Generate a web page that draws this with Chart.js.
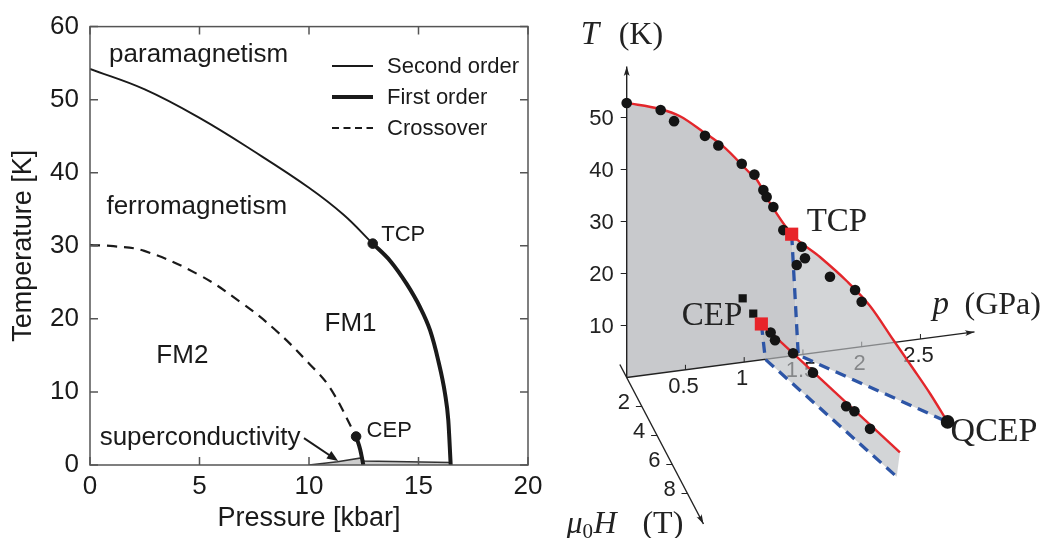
<!DOCTYPE html>
<html><head><meta charset="utf-8">
<script src="https://cdn.jsdelivr.net/npm/chart.js@4/dist/chart.umd.min.js"></script>
<style>
html,body{margin:0;padding:0;background:#fff;width:1049px;height:538px;overflow:hidden}
#c1{position:absolute;left:0;top:0}
#c2{position:absolute;left:540px;top:0}
</style></head><body>
<canvas id="c1" width="560" height="538"></canvas>
<canvas id="c2" width="509" height="538"></canvas>
<script>
// ================= LEFT PANEL DATA (pressure in kbar, temperature in K) =================
const pressureTicks = [0, 5, 10, 15, 20];
const temperatureTicks = [0, 10, 20, 30, 40, 50, 60];
const secondOrderP = [0, 2.5, 5.0, 7.5, 10.0, 11.58, 12.91];
const secondOrderT = [54.2, 51.4, 47.5, 42.9, 37.95, 34.25, 30.3];
const firstOrderP = [12.91, 13.70, 14.46, 15.07, 15.53, 15.90, 16.21, 16.36, 16.47];
const firstOrderT = [30.3, 27.96, 24.78, 21.59, 18.41, 14.32, 9.78, 6.14, 0];
const crossoverP = [0, 1.07, 2.48, 4.99, 6.87, 8.44, 10.0, 10.95, 12.15];
const crossoverT = [30.1, 29.95, 29.3, 26.0, 22.3, 18.55, 13.9, 10.6, 3.9];
const cepFirstOrderP = [12.15, 12.34, 12.48];
const cepFirstOrderT = [3.9, 2.1, 0];
const scDomeP = [10.0, 11.3, 12.45, 12.5, 14.5, 16.47];
const scDomeT = [0, 0.45, 1.0, 0.55, 0.45, 0.35];
const leftPointsP = [12.91, 12.15];   // TCP, CEP
const leftPointsT = [30.3, 3.9];
const legendLabels = ['Second order', 'First order', 'Crossover'];

// ================= RIGHT PANEL DATA (p in GPa, T in K, mu0H in T) =================
const tAxisTicks = [10, 20, 30, 40, 50];
const pAxisTicks = [0.5, 1, 1.5, 2, 2.5];
const hAxisTicks = [2, 4, 6, 8];
// Curie line in the H = 0 plane
const tcLineP = [0, 0.283, 0.454, 0.652, 0.822, 1.049, 1.106, 1.22, 1.404];
const tcLineT = [52.8, 50.8, 48.9, 45.3, 42.0, 36.2, 34.8, 29.9, 23.4];
// TCP wing line from TCP to QCEP
const wingLineP = [1.404, 1.592, 1.755, 1.897, 2.039, 2.161, 2.262, 2.37];
const wingLineT = [23.4, 20.73, 18.42, 15.63, 11.11, 7.26, 3.99, 0];
const wingLineH = [0, 0.815, 1.815, 2.688, 3.561, 4.311, 4.936, 5.58];
// measured points (circles)
const dotsP = [0, 0.289, 0.403, 0.666, 0.780, 0.979, 1.087, 1.163, 1.191, 1.248, 1.333, 1.447,
               1.481, 1.501, 1.653, 1.806, 1.846,
               1.202, 1.221, 1.297, 1.381, 1.521, 1.556, 1.622];
const dotsT = [52.8, 50.6, 48.1, 44.5, 42.3, 38.2, 35.8, 32.6, 31.2, 29.1, 24.4, 17.35,
               21.13, 19.18, 17.81, 17.42, 15.74,
               6.07, 5.33, 5.95, 5.65, 4.92, 5.38, 4.67];
const dotsH = [0, 0, 0, 0, 0, 0, 0, 0, 0, 0, 0, 0,
               0.129, 0.253, 1.19, 2.128, 2.377,
               0.35, 0.64, 1.84, 3.16, 5.36, 5.91, 6.94];
// measured points (squares)
const squaresP = [0.987, 1.077];
const squaresT = [12.3, 9.1];
// special points [p, T, H]
const TCP = [1.404, 23.4, 0];
const CEP = [1.146, 6.9, 0];
const QCEP = [2.37, 0, 5.58];
// first-order wing boundaries (dashed)
const tcpWingBaseP = [1.404, 1.46, 2.37];
const tcpWingBaseT = [23.4, 0, 0];
const tcpWingBaseH = [0, 0, 5.58];
const cepWingBaseP = [1.146, 1.18, 1.736];
const cepWingBaseT = [6.9, 0, 0];
const cepWingBaseH = [0, 0, 8.685];
// CEP wing critical line
const cepLineP = [1.146, 1.748];
const cepLineT = [6.9, 5.28];
const cepLineH = [0, 8.92];

// ================= LEFT CHART =================
const SANS = "'Liberation Sans', Arial, Helvetica, sans-serif";
const SERIF = "'Liberation Serif', 'Times New Roman', serif";
const INK = '#1a1a1a';
const xy = (P, T) => P.map((p, i) => ({x: p, y: T[i]}));

const leftAnnotations = [
  {text: 'paramagnetism', p: 0.87, T: 55.2, size: 26},
  {text: 'ferromagnetism', p: 0.75, T: 34.3, size: 26},
  {text: 'FM1', p: 10.71, T: 18.35, size: 26},
  {text: 'FM2', p: 3.03, T: 14.0, size: 26},
  {text: 'superconductivity', p: 0.44, T: 2.75, size: 26},
  {text: 'TCP', p: 13.3, T: 30.7, size: 22},
  {text: 'CEP', p: 12.63, T: 3.86, size: 22}
];

const leftDecor = {
  id: 'leftDecor',
  afterDatasetsDraw(chart) {
    const {ctx, chartArea: a, scales: {x, y}} = chart;
    ctx.save();
    // frame
    ctx.strokeStyle = '#555'; ctx.lineWidth = 1.5;
    ctx.strokeRect(a.left, a.top, a.right - a.left, a.bottom - a.top);
    // inward ticks
    ctx.beginPath();
    pressureTicks.forEach(v => {
      const px = x.getPixelForValue(v);
      ctx.moveTo(px, a.bottom); ctx.lineTo(px, a.bottom - 8);
      ctx.moveTo(px, a.top); ctx.lineTo(px, a.top + 8);
    });
    temperatureTicks.forEach(v => {
      const py = y.getPixelForValue(v);
      ctx.moveTo(a.left, py); ctx.lineTo(a.left + 8, py);
      ctx.moveTo(a.right, py); ctx.lineTo(a.right - 8, py);
    });
    ctx.stroke();
    // annotations
    ctx.fillStyle = INK; ctx.textBaseline = 'alphabetic'; ctx.textAlign = 'left';
    leftAnnotations.forEach(an => {
      ctx.font = an.size + 'px ' + SANS;
      ctx.fillText(an.text, x.getPixelForValue(an.p), y.getPixelForValue(an.T));
    });
    // arrow to superconductivity
    const ax0 = x.getPixelForValue(9.77), ay0 = y.getPixelForValue(3.68);
    const ax1 = x.getPixelForValue(11.33), ay1 = y.getPixelForValue(0.55);
    const ang = Math.atan2(ay1 - ay0, ax1 - ax0);
    ctx.strokeStyle = INK; ctx.lineWidth = 2;
    ctx.beginPath(); ctx.moveTo(ax0, ay0);
    ctx.lineTo(ax1 - 9 * Math.cos(ang), ay1 - 9 * Math.sin(ang)); ctx.stroke();
    ctx.beginPath();
    ctx.moveTo(ax1, ay1);
    ctx.lineTo(ax1 - 12 * Math.cos(ang - 0.38), ay1 - 12 * Math.sin(ang - 0.38));
    ctx.lineTo(ax1 - 12 * Math.cos(ang + 0.38), ay1 - 12 * Math.sin(ang + 0.38));
    ctx.closePath(); ctx.fill();
    // legend
    const rows = [66, 97, 128];
    const styles = [{w: 2, d: []}, {w: 4, d: []}, {w: 2, d: [7, 4.5]}];
    rows.forEach((ry, i) => {
      ctx.strokeStyle = INK; ctx.lineWidth = styles[i].w; ctx.setLineDash(styles[i].d);
      ctx.beginPath(); ctx.moveTo(332, ry); ctx.lineTo(373, ry); ctx.stroke();
      ctx.setLineDash([]);
      ctx.font = '22px ' + SANS; ctx.textBaseline = 'middle';
      ctx.fillText(legendLabels[i], 387, ry + 1);
    });
    ctx.restore();
  }
};

new Chart(document.getElementById('c1'), {
  type: 'scatter',
  data: {datasets: [
    {data: xy(scDomeP, scDomeT), showLine: true, fill: 'origin', backgroundColor: '#cdcdcd',
     borderColor: '#333', borderWidth: 1.5, pointRadius: 0, order: 10},
    {data: xy(secondOrderP, secondOrderT), showLine: true, borderColor: INK, borderWidth: 1.9,
     pointRadius: 0, tension: 0.4, order: 6},
    {data: xy(firstOrderP, firstOrderT), showLine: true, borderColor: INK, borderWidth: 4,
     pointRadius: 0, cubicInterpolationMode: 'monotone', order: 5},
    {data: xy(crossoverP, crossoverT), showLine: true, borderColor: INK, borderWidth: 2.2,
     borderDash: [10, 7], pointRadius: 0, tension: 0.4, order: 4},
    {data: xy(cepFirstOrderP, cepFirstOrderT), showLine: true, borderColor: INK, borderWidth: 4,
     pointRadius: 0, cubicInterpolationMode: 'monotone', order: 3},
    {data: xy(leftPointsP, leftPointsT), showLine: false, pointRadius: 4.8,
     pointBackgroundColor: INK, pointBorderColor: INK, order: 0}
  ]},
  options: {
    responsive: false, animation: false,
    layout: {autoPadding: false, padding: {top: 25, right: 32, left: 0, bottom: 0}},
    plugins: {legend: {display: false}, tooltip: {enabled: false}},
    scales: {
      x: {type: 'linear', min: 0, max: 20,
          afterBuildTicks: s => { s.ticks = pressureTicks.map(v => ({value: v})); },
          ticks: {font: {family: SANS, size: 26}, color: INK, padding: 6, maxRotation: 0, autoSkip: false},
          grid: {display: false, drawTicks: false}, border: {display: false},
          title: {display: true, text: 'Pressure [kbar]', color: INK,
                  font: {family: SANS, size: 27}, padding: {top: 0, bottom: 3}},
          afterFit: s => { s.height = 73; }},
      y: {type: 'linear', min: 0, max: 60,
          afterBuildTicks: s => { s.ticks = temperatureTicks.map(v => ({value: v})); },
          ticks: {font: {family: SANS, size: 26}, color: INK, padding: 11, autoSkip: false},
          grid: {display: false, drawTicks: false}, border: {display: false},
          title: {display: true, text: 'Temperature [K]', color: INK,
                  font: {family: SANS, size: 27}, padding: {top: 7, bottom: 0}},
          afterFit: s => { s.width = 90; }}
    }
  },
  plugins: [leftDecor]
});

// ================= RIGHT CHART (oblique 3D projection) =================
const VIEW_P = [117.5, 15.4];   // view units per GPa  (horizontal, vertical)
const VIEW_T = [0, 5.2];        // view units per K
const VIEW_H = [7.6, -14.5];    // view units per T
const proj = (p, T, H) => ({x: VIEW_P[0] * p + VIEW_T[0] * T + VIEW_H[0] * H,
                            y: VIEW_P[1] * p + VIEW_T[1] * T + VIEW_H[1] * H});
const pts3 = (P, T, H) => P.map((p, i) => proj(p, T[i], H ? H[i] : 0));

const RED = '#e3262b', BLUE = '#2d55a6', DOT = '#141414';
const redMain = pts3(tcLineP, tcLineT).concat(pts3(wingLineP, wingLineT, wingLineH).slice(1));
const mainPlane = [proj(0, 0, 0)].concat(pts3(tcLineP, tcLineT), [proj(1.46, 0, 0), proj(0, 0, 0)]);
const tcpWing = pts3(tcpWingBaseP, tcpWingBaseT, tcpWingBaseH)
  .concat(pts3(wingLineP, wingLineT, wingLineH).reverse());
const cepWing = pts3(cepWingBaseP, cepWingBaseT, cepWingBaseH)
  .concat(pts3(cepLineP, cepLineT, cepLineH).reverse());

function drawArrow(ctx, x0, y0, x1, y1) {
  const a = Math.atan2(y1 - y0, x1 - x0);
  ctx.beginPath(); ctx.moveTo(x0, y0); ctx.lineTo(x1, y1); ctx.stroke();
  ctx.beginPath();
  ctx.moveTo(x1, y1);
  ctx.lineTo(x1 - 10 * Math.cos(a - 0.3), y1 - 10 * Math.sin(a - 0.3));
  ctx.quadraticCurveTo(x1 - 6 * Math.cos(a), y1 - 6 * Math.sin(a),
                       x1 - 10 * Math.cos(a + 0.3), y1 - 10 * Math.sin(a + 0.3));
  ctx.closePath(); ctx.fill();
}

const rightDecor = {
  id: 'rightDecor',
  afterDatasetDraw(chart, args) {
    if (args.index !== 0) return;
    const {ctx, scales: {x, y}} = chart;
    const P = (p, T, H) => { const q = proj(p, T, H); return [x.getPixelForValue(q.x), y.getPixelForValue(q.y)]; };
    ctx.save();
    ctx.strokeStyle = '#222'; ctx.fillStyle = '#222'; ctx.lineWidth = 1.4;
    // T axis
    let a = P(0, 0, 0), b = P(0, 59.8, 0);
    drawArrow(ctx, a[0], a[1], b[0], b[1]);
    // p axis
    b = P(2.96, 0, 0);
    drawArrow(ctx, a[0], a[1], b[0], b[1]);
    // H axis
    a = P(0, 0, -0.9); b = P(0, 0, 10.1);
    drawArrow(ctx, a[0], a[1], b[0], b[1]);
    // ticks & tick labels
    ctx.font = '22px ' + SANS; ctx.lineWidth = 1;
    ctx.textBaseline = 'middle';
    ctx.textAlign = 'right';
    tAxisTicks.forEach(v => {
      const q = P(0, v, 0);
      ctx.beginPath(); ctx.moveTo(q[0], q[1]); ctx.lineTo(q[0] - 6, q[1]); ctx.stroke();
      ctx.fillText(String(v), q[0] - 13, q[1] + 1);
    });
    ctx.textAlign = 'center';
    pAxisTicks.forEach(v => {
      const q = P(v, 0, 0);
      ctx.beginPath(); ctx.moveTo(q[0], q[1]); ctx.lineTo(q[0], q[1] - 5); ctx.stroke();
      ctx.fillText(String(v), q[0] - 2, q[1] + 17);
    });
    hAxisTicks.forEach(v => {
      const q = P(0, 0, v);
      ctx.beginPath(); ctx.moveTo(q[0], q[1]); ctx.lineTo(q[0] - 6, q[1]); ctx.stroke();
      ctx.fillText(String(v), q[0] - 18, q[1] - 4);
    });
    // axis titles
    ctx.textBaseline = 'alphabetic'; ctx.textAlign = 'left';
    let o = P(0, 59.8, 0);
    ctx.font = 'italic 33px ' + SERIF; ctx.fillText('T', o[0] - 46, o[1] - 23);
    ctx.font = '32px ' + SERIF; ctx.fillText('(K)', o[0] - 8, o[1] - 23);
    o = P(2.96, 0, 0);
    ctx.font = 'italic 33px ' + SERIF; ctx.fillText('p', o[0] - 42, o[1] - 18);
    ctx.font = '32px ' + SERIF; ctx.fillText('(GPa)', o[0] - 10, o[1] - 18);
    o = P(0, 0, 10.1);
    ctx.font = 'italic 32px ' + SERIF; ctx.fillText('\u03bc', o[0] - 137, o[1] + 9);
    ctx.font = '21px ' + SERIF; ctx.fillText('0', o[0] - 121, o[1] + 14);
    ctx.font = 'italic 32px ' + SERIF; ctx.fillText('H', o[0] - 110, o[1] + 9);
    ctx.font = '32px ' + SERIF; ctx.fillText('(T)', o[0] - 61, o[1] + 9);
    // point labels
    ctx.font = '33px ' + SERIF;
    o = P(...TCP); ctx.fillText('TCP', o[0] + 15, o[1] - 3);
    ctx.font = '34px ' + SERIF;
    o = P(...QCEP); ctx.fillText('QCEP', o[0] + 3, o[1] + 19);
    ctx.font = '33px ' + SERIF;
    o = P(...CEP); ctx.textAlign = 'right'; ctx.fillText('CEP', o[0] - 19, o[1] + 1);
    ctx.restore();
  }
};

new Chart(document.getElementById('c2'), {
  type: 'scatter',
  data: {datasets: [
    {data: mainPlane, showLine: true, fill: 'shape', backgroundColor: '#c8c9cc',
     borderWidth: 0, pointRadius: 0, order: 100},
    {data: tcpWing, showLine: true, fill: 'shape', backgroundColor: 'rgba(187,190,193,0.65)',
     borderWidth: 0, pointRadius: 0, order: 90},
    {data: cepWing, showLine: true, fill: 'shape', backgroundColor: 'rgba(187,190,193,0.65)',
     borderWidth: 0, pointRadius: 0, order: 85},
    {data: pts3(tcpWingBaseP, tcpWingBaseT, tcpWingBaseH), showLine: true, borderColor: BLUE,
     borderWidth: 3.3, borderDash: [11, 7], pointRadius: 0, order: 50},
    {data: pts3(cepWingBaseP, cepWingBaseT, cepWingBaseH), showLine: true, borderColor: BLUE,
     borderWidth: 3.3, borderDash: [11, 7], pointRadius: 0, order: 49},
    {data: redMain, showLine: true, borderColor: RED, borderWidth: 2.4, pointRadius: 0,
     cubicInterpolationMode: 'monotone', order: 40},
    {data: pts3(cepLineP, cepLineT, cepLineH), showLine: true, borderColor: RED, borderWidth: 2.4,
     pointRadius: 0, order: 39},
    {data: pts3(dotsP, dotsT, dotsH), pointRadius: 5.3, pointBackgroundColor: DOT,
     pointBorderColor: DOT, borderWidth: 0, order: 10},
    {data: pts3(squaresP, squaresT), pointStyle: 'rect', pointRadius: 5.8,
     pointBackgroundColor: DOT, pointBorderColor: DOT, borderWidth: 0, order: 9},
    {data: [proj(...QCEP)], pointRadius: 6.8, pointBackgroundColor: DOT,
     pointBorderColor: DOT, borderWidth: 0, order: 8},
    {data: [proj(...TCP), proj(...CEP)], pointStyle: 'rect', pointRadius: 9.3,
     pointBackgroundColor: '#e8242a', pointBorderColor: '#e8242a', borderWidth: 0, order: 1}
  ]},
  options: {
    responsive: false, animation: false,
    layout: {autoPadding: false, padding: 0},
    plugins: {legend: {display: false}, tooltip: {enabled: false}},
    scales: {
      x: {type: 'linear', display: false, min: -86.7, max: 422.3},
      y: {type: 'linear', display: false, min: -160.5, max: 377.5}
    }
  },
  plugins: [rightDecor]
});
</script>
</body></html>
